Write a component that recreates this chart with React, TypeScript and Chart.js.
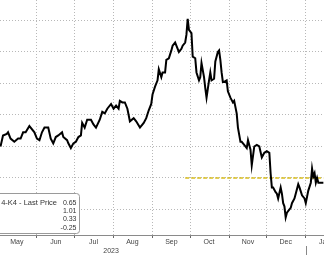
import React, { useEffect, useRef } from "react";
import { Chart, registerables } from "chart.js";

Chart.register(...registerables);

// ---- data ----
const dates = [
  "2023-05-03", "2023-05-05", "2023-05-08", "2023-05-09", "2023-05-11", "2023-05-14", "2023-05-17", "2023-05-19",
  "2023-05-21", "2023-05-23", "2023-05-26", "2023-05-27", "2023-05-30", "2023-06-01", "2023-06-03", "2023-06-05",
  "2023-06-07", "2023-06-10", "2023-06-12", "2023-06-14", "2023-06-16", "2023-06-18", "2023-06-21", "2023-06-22",
  "2023-06-25", "2023-06-26", "2023-06-28", "2023-06-30", "2023-07-02", "2023-07-04", "2023-07-06", "2023-07-07",
  "2023-07-09", "2023-07-11", "2023-07-14", "2023-07-16", "2023-07-18", "2023-07-21", "2023-07-23", "2023-07-25",
  "2023-07-27", "2023-07-30", "2023-08-01", "2023-08-03", "2023-08-05", "2023-08-06", "2023-08-08", "2023-08-10",
  "2023-08-12", "2023-08-13", "2023-08-14", "2023-08-17", "2023-08-19", "2023-08-22", "2023-08-25", "2023-08-27",
  "2023-08-29", "2023-08-31", "2023-09-01", "2023-09-03", "2023-09-05", "2023-09-06", "2023-09-08", "2023-09-09",
  "2023-09-11", "2023-09-12", "2023-09-14", "2023-09-16", "2023-09-17", "2023-09-19", "2023-09-20", "2023-09-22",
  "2023-09-24", "2023-09-25", "2023-09-27", "2023-09-28", "2023-09-29", "2023-09-30", "2023-10-02", "2023-10-03",
  "2023-10-05", "2023-10-06", "2023-10-08", "2023-10-09", "2023-10-10", "2023-10-12", "2023-10-13", "2023-10-14",
  "2023-10-16", "2023-10-17", "2023-10-18", "2023-10-20", "2023-10-21", "2023-10-23", "2023-10-24", "2023-10-25",
  "2023-10-26", "2023-10-27", "2023-10-28", "2023-10-30", "2023-10-31", "2023-11-02", "2023-11-04", "2023-11-05",
  "2023-11-07", "2023-11-08", "2023-11-10", "2023-11-11", "2023-11-13", "2023-11-15", "2023-11-16", "2023-11-18",
  "2023-11-19", "2023-11-21", "2023-11-23", "2023-11-25", "2023-11-27", "2023-11-29", "2023-12-01", "2023-12-03",
  "2023-12-04", "2023-12-05", "2023-12-06", "2023-12-08", "2023-12-09", "2023-12-10", "2023-12-12", "2023-12-13",
  "2023-12-14", "2023-12-15", "2023-12-16", "2023-12-17", "2023-12-19", "2023-12-20", "2023-12-21", "2023-12-23",
  "2023-12-24", "2023-12-26", "2023-12-27", "2023-12-29", "2023-12-31", "2024-01-01", "2024-01-02", "2024-01-03",
  "2024-01-05", "2024-01-06", "2024-01-07", "2024-01-08", "2024-01-09", "2024-01-10", "2024-01-11", "2024-01-13",
  "2024-01-15",
];

const values = [
  0.20, 0.27, 0.28, 0.29, 0.25, 0.23, 0.25, 0.25,
  0.29, 0.29, 0.33, 0.32, 0.29, 0.25, 0.24, 0.29,
  0.32, 0.32, 0.25, 0.22, 0.26, 0.27, 0.29, 0.26,
  0.24, 0.22, 0.19, 0.22, 0.23, 0.26, 0.27, 0.35,
  0.32, 0.37, 0.37, 0.34, 0.32, 0.37, 0.42, 0.41,
  0.44, 0.47, 0.44, 0.46, 0.44, 0.49, 0.48, 0.48,
  0.44, 0.40, 0.36, 0.38, 0.36, 0.32, 0.35, 0.38,
  0.43, 0.47, 0.53, 0.58, 0.62, 0.69, 0.64, 0.67,
  0.67, 0.75, 0.76, 0.81, 0.84, 0.86, 0.84, 0.80,
  0.82, 0.84, 0.86, 0.91, 1.01, 0.94, 0.92, 0.77,
  0.76, 0.67, 0.62, 0.64, 0.73, 0.64, 0.57, 0.51,
  0.62, 0.67, 0.62, 0.63, 0.74, 0.80, 0.81, 0.75,
  0.67, 0.61, 0.61, 0.62, 0.55, 0.51, 0.48, 0.49,
  0.41, 0.32, 0.23, 0.23, 0.21, 0.19, 0.24, 0.18,
  0.08, 0.20, 0.21, 0.20, 0.13, 0.16, 0.17, 0.16,
  0.03, -0.06, -0.06, -0.09, -0.10, -0.13, -0.06, -0.10,
  -0.16, -0.18, -0.25, -0.22, -0.20, -0.19, -0.16, -0.13,
  -0.10, -0.04, -0.06, -0.11, -0.13, -0.16, -0.12, -0.08,
  -0.03, 0.06, 0.01, 0.03, -0.03, 0.00, -0.03, -0.03,
  -0.03,
];

const monthStarts = ["2023-06-01", "2023-07-01", "2023-08-01", "2023-09-01", "2023-10-01", "2023-11-01", "2023-12-01", "2024-01-01"];
const monthLabels = ["May", "Jun", "Jul", "Aug", "Sep", "Oct", "Nov", "Dec", "Jan"];
const monthMids = ["2023-05-16", "2023-06-16", "2023-07-16", "2023-08-16", "2023-09-16", "2023-10-16", "2023-11-16", "2023-12-16", "2024-01-16"];
const yGridValues = [-0.2, 0, 0.2, 0.4, 0.6, 0.8, 1.0];

const refLineDates = ["2023-09-27", "2024-01-15"];
const refLineValue = 0;

const legendTitle = "4-K4 - Last Price";
const legendValues = ["0.65", "1.01", "0.33", "-0.25"];
const yearLabel = "2023";
const yearLabelDate = "2023-07-30";
const yearBreakDate = "2024-01-01";

const xRange = ["2023-05-03", "2024-01-15"];
const yMin = -0.362;
const yMax = 1.13;

// ---- helpers ----
const ORIGIN = Date.UTC(2023, 4, 1);
const toDay = (s: string) => {
  const [y, m, d] = s.split("-").map(Number);
  return (Date.UTC(y, m - 1, d) - ORIGIN) / 86400000;
};

const FONT = "'Liberation Sans', Arial, sans-serif";
const GRID = "#b8b8b8";

export default function App() {
  const ref = useRef<HTMLCanvasElement | null>(null);

  useEffect(() => {
    if (!ref.current) return;
    const boundaryDays = monthStarts.map(toDay);
    const midDays = monthMids.map(toDay);
    const labelMap = new Map<number, string>();
    midDays.forEach((d, i) => labelMap.set(d, monthLabels[i]));
    const isBoundary = (v: number) => boundaryDays.includes(v);

    const overlay = {
      id: "overlay",
      afterDraw(chart: any) {
        const ctx = chart.ctx as CanvasRenderingContext2D;
        const xs = chart.scales.x;
        ctx.save();
        // year separator
        const bx = Math.round(xs.getPixelForValue(toDay(yearBreakDate))) + 0.5;
        ctx.strokeStyle = "#888";
        ctx.lineWidth = 1;
        ctx.beginPath();
        ctx.moveTo(bx, 246);
        ctx.lineTo(bx, 255);
        ctx.stroke();
        // year label
        ctx.fillStyle = "#444";
        ctx.font = `7px ${FONT}`;
        ctx.textAlign = "center";
        ctx.textBaseline = "middle";
        ctx.fillText(yearLabel, xs.getPixelForValue(toDay(yearLabelDate)), 251.5);
        // legend box
        ctx.beginPath();
        const x0 = -6, y0 = 193.5, w = 85.5, h = 40, r = 3;
        ctx.moveTo(x0, y0);
        ctx.lineTo(x0 + w - r, y0);
        ctx.quadraticCurveTo(x0 + w, y0, x0 + w, y0 + r);
        ctx.lineTo(x0 + w, y0 + h - r);
        ctx.quadraticCurveTo(x0 + w, y0 + h, x0 + w - r, y0 + h);
        ctx.lineTo(x0, y0 + h);
        ctx.closePath();
        ctx.fillStyle = "#fff";
        ctx.fill();
        ctx.strokeStyle = "#9a9a9a";
        ctx.stroke();
        ctx.fillStyle = "#333";
        ctx.font = `7.5px ${FONT}`;
        ctx.textAlign = "right";
        ctx.fillText(legendTitle, 57, 203);
        ctx.font = `7px ${FONT}`;
        const rows = [203, 211, 219.3, 227.6];
        legendValues.forEach((v, i) => ctx.fillText(v, 76.5, rows[i]));
        ctx.restore();
      },
    };

    const chart = new Chart(ref.current, {
      type: "line",
      data: {
        datasets: [
          {
            data: dates.map((d, i) => ({ x: toDay(d), y: values[i] })),
            borderColor: "#000",
            borderWidth: 2,
            pointRadius: 0,
            tension: 0,
            order: 1,
          },
          {
            data: refLineDates.map((d) => ({ x: toDay(d), y: refLineValue })),
            borderColor: "#d9bd1e",
            borderWidth: 1.5,
            borderDash: [4, 2],
            pointRadius: 0,
            order: 2,
          },
        ],
      },
      options: {
        animation: false,
        responsive: true,
        maintainAspectRatio: false,
        layout: { padding: 0 },
        plugins: { legend: { display: false }, tooltip: { enabled: false } },
        scales: {
          x: {
            type: "linear",
            min: toDay(xRange[0]) - 0.4,
            max: toDay(xRange[1]) + 0.5,
            afterBuildTicks: (scale: any) => {
              const all = [...boundaryDays, ...midDays].sort((a, b) => a - b);
              scale.ticks = all.map((v) => ({ value: v }));
            },
            afterFit: (scale: any) => {
              scale.height = 20;
              scale.paddingLeft = 0;
              scale.paddingRight = 0;
            },
            ticks: {
              autoSkip: false,
              maxRotation: 0,
              minRotation: 0,
              padding: 0,
              color: "#444",
              font: { family: FONT, size: 7 },
              callback: (v: any) => labelMap.get(Number(v)) ?? "",
            },
            grid: {
              color: (c: any) => (c.tick && isBoundary(c.tick.value) ? GRID : "rgba(0,0,0,0)"),
              tickColor: (c: any) => (c.tick && isBoundary(c.tick.value) ? "#666" : "rgba(0,0,0,0)"),
              tickLength: 3,
              tickBorderDash: [],
              lineWidth: 1,
            },
            border: { display: true, color: "#8a8a8a", width: 1, dash: [1, 2] },
          },
          y: {
            type: "linear",
            position: "right",
            min: yMin,
            max: yMax,
            afterBuildTicks: (scale: any) => {
              scale.ticks = yGridValues.map((v) => ({ value: v }));
            },
            afterFit: (scale: any) => {
              scale.width = 0;
            },
            ticks: { display: false },
            grid: { color: GRID, drawTicks: false, lineWidth: 1 },
            border: { display: false, dash: [1, 2] },
          },
        },
      },
      plugins: [overlay],
    } as any);
    return () => chart.destroy();
  }, []);

  return (
    <div style={{ position: "absolute", left: 0, top: 0, width: 324, height: 255 }}>
      <canvas ref={ref} />
    </div>
  );
}
